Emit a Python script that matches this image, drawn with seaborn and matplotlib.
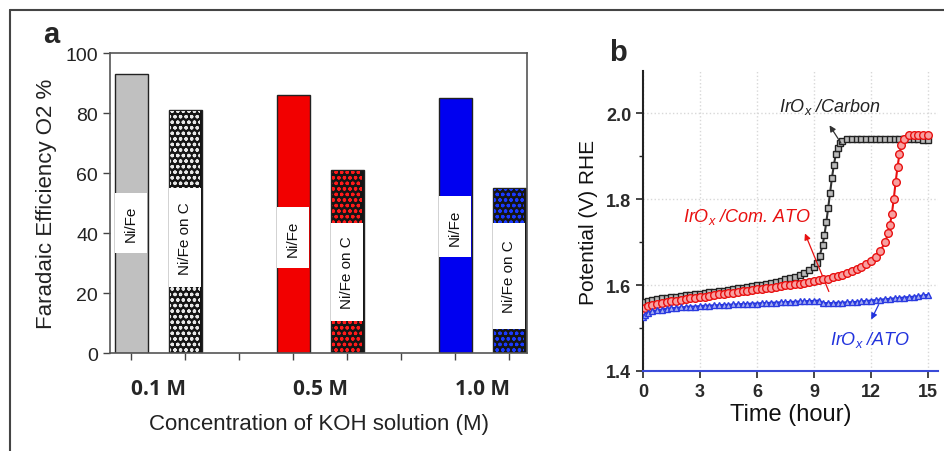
import numpy as np
import pandas as pd
import matplotlib
matplotlib.use('Agg')
import matplotlib.pyplot as plt
from matplotlib.lines import Line2D
import seaborn as sns

# ---- data, panel a (Faradaic efficiency) ----
concentrations = ['0.1 M', '0.5 M', '1.0 M']
catalysts = ['Ni/Fe', 'Ni/Fe on C']
efficiency = [93, 81, 86, 61, 85, 55]
label_low = [33.3, 22.0, 28.3, 10.7, 32.0, 8.0]
label_high = [53.3, 55.0, 48.7, 43.3, 52.3, 43.3]
bar_colors = ['#c0c0c0', '#c0c0c0', '#f20000', '#f20000', '#0000f0', '#0000f0']

# ---- data, panel b (chronopotentiometry) ----
t_carbon = [0, 0.1, 0.25, 0.5, 0.75, 1.0, 1.25, 1.5, 1.75, 2.0, 2.25, 2.5, 2.75, 3.0,
            3.25, 3.5, 3.75, 4.0, 4.25, 4.5, 4.75, 5.0, 5.25, 5.5, 5.75, 6.0, 6.25, 6.5,
            6.75, 7.0, 7.25, 7.5, 7.75, 8.0, 8.25, 8.5, 8.75, 9.0, 9.15, 9.3, 9.45, 9.55,
            9.65, 9.75, 9.85, 9.95, 10.05, 10.15, 10.25, 10.35, 10.5, 10.75, 11.0, 11.25,
            11.5, 11.75, 12.0, 12.25, 12.5, 12.75, 13.0, 13.25, 13.5, 13.75, 14.0, 14.25,
            14.5, 14.75, 15.0]
v_carbon = [1.555, 1.561, 1.564, 1.566, 1.568, 1.569, 1.570, 1.572, 1.573, 1.575, 1.576,
            1.577, 1.579, 1.580, 1.581, 1.583, 1.584, 1.586, 1.587, 1.589, 1.590, 1.592,
            1.593, 1.595, 1.597, 1.599, 1.601, 1.603, 1.605, 1.607, 1.610, 1.613, 1.616,
            1.619, 1.623, 1.628, 1.634, 1.642, 1.652, 1.668, 1.692, 1.716, 1.746, 1.780,
            1.815, 1.850, 1.880, 1.904, 1.920, 1.930, 1.936, 1.939, 1.940, 1.940, 1.940,
            1.940, 1.940, 1.940, 1.940, 1.940, 1.940, 1.940, 1.940, 1.939, 1.939, 1.939,
            1.939, 1.938, 1.938]

t_com_ato = [0, 0.1, 0.25, 0.5, 0.75, 1.0, 1.25, 1.5, 1.75, 2.0, 2.25, 2.5, 2.75, 3.0,
             3.25, 3.5, 3.75, 4.0, 4.25, 4.5, 4.75, 5.0, 5.25, 5.5, 5.75, 6.0, 6.25, 6.5,
             6.75, 7.0, 7.25, 7.5, 7.75, 8.0, 8.25, 8.5, 8.75, 9.0, 9.25, 9.5, 9.75, 10.0,
             10.25, 10.5, 10.75, 11.0, 11.25, 11.5, 11.75, 12.0, 12.25, 12.5, 12.75, 12.9,
             13.0, 13.1, 13.2, 13.3, 13.4, 13.5, 13.6, 13.75, 14.0, 14.25, 14.5, 14.75, 15.0]
v_com_ato = [1.540, 1.547, 1.551, 1.554, 1.556, 1.558, 1.560, 1.562, 1.564, 1.566, 1.567,
             1.569, 1.570, 1.572, 1.573, 1.575, 1.576, 1.578, 1.579, 1.581, 1.582, 1.584,
             1.585, 1.587, 1.588, 1.590, 1.591, 1.593, 1.594, 1.596, 1.597, 1.599, 1.600,
             1.602, 1.603, 1.605, 1.607, 1.609, 1.611, 1.613, 1.615, 1.618, 1.621, 1.624,
             1.628, 1.632, 1.637, 1.642, 1.648, 1.655, 1.665, 1.680, 1.700, 1.720, 1.740,
             1.765, 1.800, 1.840, 1.875, 1.905, 1.925, 1.940, 1.948, 1.950, 1.950, 1.950,
             1.948]

t_ato = [0, 0.1, 0.25, 0.5, 0.75, 1.0, 1.25, 1.5, 1.75, 2.0, 2.25, 2.5, 2.75, 3.0,
         3.25, 3.5, 3.75, 4.0, 4.25, 4.5, 4.75, 5.0, 5.25, 5.5, 5.75, 6.0, 6.25, 6.5,
         6.75, 7.0, 7.25, 7.5, 7.75, 8.0, 8.25, 8.5, 8.75, 9.0, 9.25, 9.5, 9.75, 10.0,
         10.25, 10.5, 10.75, 11.0, 11.25, 11.5, 11.75, 12.0, 12.25, 12.5, 12.75, 13.0,
         13.25, 13.5, 13.75, 14.0, 14.25, 14.5, 14.75, 15.0]
v_ato = [1.525, 1.531, 1.535, 1.539, 1.541, 1.543, 1.545, 1.546, 1.547, 1.548, 1.549,
         1.550, 1.550, 1.551, 1.552, 1.552, 1.553, 1.553, 1.554, 1.554, 1.555, 1.555,
         1.556, 1.556, 1.557, 1.557, 1.558, 1.558, 1.559, 1.559, 1.560, 1.560, 1.561,
         1.561, 1.562, 1.562, 1.563, 1.563, 1.564, 1.558, 1.558, 1.558, 1.559, 1.559,
         1.560, 1.560, 1.561, 1.562, 1.563, 1.564, 1.565, 1.566, 1.567, 1.568, 1.569,
         1.570, 1.571, 1.572, 1.573, 1.574, 1.576, 1.577]

sns.set_style('ticks')
plt.rcParams['font.family'] = ['Liberation Sans', 'DejaVu Sans']
plt.rcParams['mathtext.fontset'] = 'custom'
plt.rcParams['mathtext.rm'] = 'Liberation Sans'
plt.rcParams['mathtext.it'] = 'Liberation Sans:italic'
plt.rcParams['hatch.linewidth'] = 0.9

fig = plt.figure(figsize=(9.45, 4.52), dpi=100)
ax_a = fig.add_axes([0.1164, 0.2168, 0.4413, 0.6637])
ax_b = fig.add_axes([0.6804, 0.1770, 0.3122, 0.6637])

# ---------------- panel a ----------------
# bars sit in slots 0,1 | 3,4 | 6,7 (slot 2 and 5 are group gaps)
slots = [3 * i + j for i in range(len(concentrations)) for j in range(len(catalysts))]
df_a = pd.DataFrame({'slot': slots, 'efficiency': efficiency,
                     'catalyst': catalysts * len(concentrations)})
sns.barplot(data=df_a, x='slot', y='efficiency', native_scale=True, width=0.61,
            errorbar=None, color='white', edgecolor='#222222', linewidth=1.0,
            ax=ax_a, zorder=2)
on_c = df_a['catalyst'] == 'Ni/Fe on C'
for k, patch in enumerate(ax_a.patches):
    patch.set_facecolor('#151515' if on_c[k] else bar_colors[k])

# dotted "checker" fill for the carbon-supported bars: light dots over black
dot_colors = {'#c0c0c0': '#e8e8e8', '#f20000': '#ff1a1a', '#0000f0': '#1a3aff'}
for k in np.where(on_c)[0]:
    ax_a.bar(slots[k], efficiency[k] - 0.4, width=0.56, color='none',
             edgecolor=dot_colors[bar_colors[k]], hatch='ooo', linewidth=0, zorder=2.5)

# white label boxes + rotated text
ax_a.bar(slots, np.array(label_high) - np.array(label_low), bottom=label_low,
         width=0.595, color='white', edgecolor='none', zorder=3)
for s, lo, hi, name in zip(slots, label_low, label_high, df_a['catalyst']):
    ax_a.text(s, (lo + hi) / 2, name, rotation=90, ha='center', va='center',
              fontsize=11, color='#111111', zorder=4)

ax_a.set_xlim(-0.39, 7.33)
ax_a.set_ylim(0, 100)
ax_a.set_yticks([0, 20, 40, 60, 80, 100])
ax_a.set_xticks(range(8))
ax_a.set_xticklabels([])
ax_a.set_xticks([0.5, 3.5, 6.5], minor=True)
ax_a.set_xticklabels(concentrations, minor=True, fontsize=15, fontweight='bold',
                     family='Open Sans')
ax_a.tick_params(axis='x', which='minor', length=0, pad=18)
ax_a.tick_params(axis='both', which='major', direction='out', length=5, width=1,
                 color='#444444', labelsize=14, labelcolor='#222222')
ax_a.set_xlabel('Concentration of KOH solution (M)', fontsize=16, labelpad=10,
                color='#222222')
ax_a.set_ylabel('Faradaic Efficiency O2 %', fontsize=16, labelpad=6, color='#222222')
for sp in ax_a.spines.values():
    sp.set_color('#555555')
    sp.set_linewidth(1.2)

# ---------------- panel b ----------------
sns.lineplot(x=t_carbon, y=v_carbon, ax=ax_b, color='#333333', linewidth=1.5,
             marker='s', markersize=5, markerfacecolor='#bbbbbb',
             markeredgecolor='#222222', markeredgewidth=1.0, zorder=3)
sns.lineplot(x=t_com_ato, y=v_com_ato, ax=ax_b, color='#e81010', linewidth=1.5,
             marker='o', markersize=5.5, markerfacecolor='#f7a0a0',
             markeredgecolor='#e81010', markeredgewidth=1.0, zorder=4)
sns.lineplot(x=t_ato, y=v_ato, ax=ax_b, color='#2233dd', linewidth=1.5,
             marker='^', markersize=5, markerfacecolor='#a8b0f0',
             markeredgecolor='#2a3ae0', markeredgewidth=1.0, zorder=5)

ax_b.set_xlim(0, 15.53)
ax_b.set_ylim(1.4, 2.098)
ax_b.set_xticks([0, 3, 6, 9, 12, 15])
ax_b.set_yticks([1.4, 1.6, 1.8, 2.0])
ax_b.set_yticklabels(['1.4', '1.6', '1.8', '2.0'])
ax_b.set_yticks([1.5, 1.7, 1.9], minor=True)
ax_b.grid(True, which='major', color='#d8d8d8', linestyle=':', linewidth=1)
ax_b.tick_params(axis='both', which='major', direction='out', length=5, width=1.2,
                 labelsize=13, labelcolor='#2a2a2a')
for lbl in ax_b.get_xticklabels() + ax_b.get_yticklabels():
    lbl.set_fontweight('bold')
ax_b.tick_params(axis='y', which='minor', direction='out', length=3, width=1)
ax_b.set_xlabel('Time (hour)', fontsize=17, labelpad=2, color='#111111')
ax_b.set_ylabel('Potential (V) RHE', fontsize=15, labelpad=6, color='#111111')
sns.despine(ax=ax_b)
ax_b.spines['left'].set_linewidth(1.5)
ax_b.spines['left'].set_color('#222222')
ax_b.spines['bottom'].set_linewidth(1.5)
ax_b.spines['bottom'].set_color('#3a4ad8')

ax_b.text(9.84, 2.016, 'IrO$_x$ /Carbon', fontsize=13, style='italic',
          color='#222222', ha='center', va='center')
ax_b.text(5.47, 1.760, 'IrO$_x$ /Com. ATO', fontsize=13, style='italic',
          color='#e81010', ha='center', va='center')
ax_b.text(11.95, 1.474, 'IrO$_x$ /ATO', fontsize=13, style='italic',
          color='#2233dd', ha='center', va='center')
ax_b.annotate('', xy=(9.74, 1.977), xytext=(10.5, 1.925),
              arrowprops=dict(arrowstyle='-|>', color='#333333', lw=0.9,
                              mutation_scale=9))
ax_b.annotate('', xy=(8.47, 1.726), xytext=(9.84, 1.579),
              arrowprops=dict(arrowstyle='-|>', color='#e81010', lw=0.9,
                              mutation_scale=9))
ax_b.annotate('', xy=(11.95, 1.514), xytext=(12.47, 1.560),
              arrowprops=dict(arrowstyle='-|>', color='#2233dd', lw=0.9,
                              mutation_scale=9))

# panel letters and outer frame
fig.text(51 / 945, 1 - 35 / 452, 'a', fontsize=21, fontweight='bold',
         ha='center', va='center')
fig.text(618 / 945, 1 - 53 / 452, 'b', fontsize=21, fontweight='bold',
         ha='center', va='center')
fig.add_artist(Line2D([10 / 945, 1], [1 - 11 / 452, 1 - 11 / 452],
                      transform=fig.transFigure, color='#444444', lw=1.5))
fig.add_artist(Line2D([10 / 945, 10 / 945], [0, 1 - 11 / 452],
                      transform=fig.transFigure, color='#444444', lw=1.5))

fig.savefig('out.png', dpi=100)
